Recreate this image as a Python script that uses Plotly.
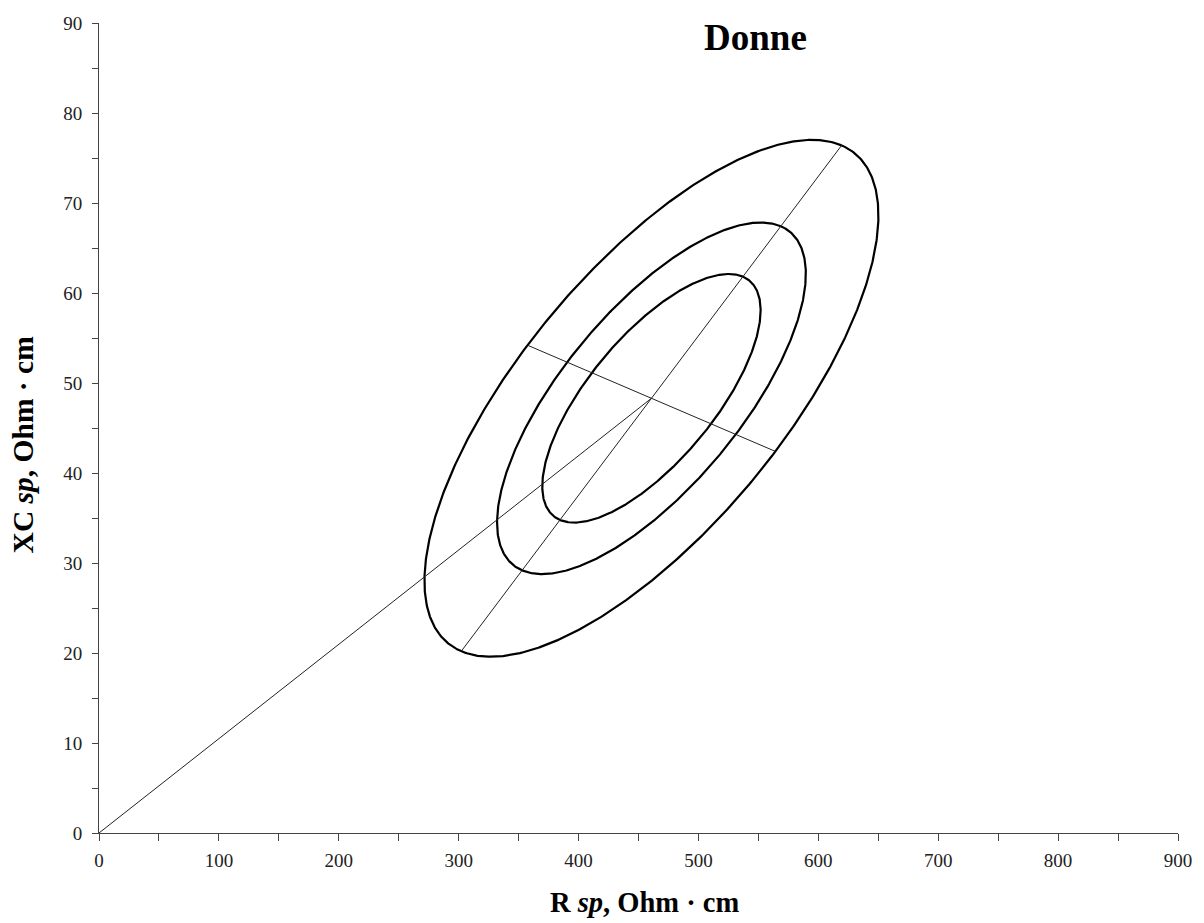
import numpy as np
import plotly.graph_objects as go

# ---- data ----
center_R = 460.8          # mean R sp (Ohm·cm)
center_XC = 48.3          # mean XC sp (Ohm·cm)
major_vec = [158.6, 28.1]   # semi-major conjugate diameter of 95% ellipse (R, XC)
minor_vec = [-103.4, 5.9]   # semi-minor conjugate diameter of 95% ellipse (R, XC)
tolerance_levels = [0.50, 0.75, 0.95]
x_ticks = [0, 100, 200, 300, 400, 500, 600, 700, 800, 900]
y_ticks = [0, 10, 20, 30, 40, 50, 60, 70, 80, 90]
title_text = "Donne"
x_title = "R <i>sp</i>, Ohm · cm"
y_title = "XC <i>sp</i>, Ohm · cm"

FONT = "Liberation Serif, Times New Roman, serif"

fig = go.Figure()

# tolerance ellipses (scaled by chi-square radius relative to 95%)
r95 = np.sqrt(-2 * np.log(1 - 0.95))
t = np.linspace(0, 2 * np.pi, 721)
for p in tolerance_levels:
    s = np.sqrt(-2 * np.log(1 - p)) / r95
    ex = center_R + s * (major_vec[0] * np.cos(t) + minor_vec[0] * np.sin(t))
    ey = center_XC + s * (major_vec[1] * np.cos(t) + minor_vec[1] * np.sin(t))
    fig.add_trace(go.Scatter(x=ex, y=ey, mode="lines",
                             line=dict(color="black", width=2.2),
                             hoverinfo="skip", showlegend=False))

thin = dict(color="#222222", width=1)
# major axis
fig.add_trace(go.Scatter(x=[center_R - major_vec[0], center_R + major_vec[0]],
                         y=[center_XC - major_vec[1], center_XC + major_vec[1]],
                         mode="lines", line=thin, showlegend=False))
# minor axis
fig.add_trace(go.Scatter(x=[center_R + minor_vec[0], center_R - minor_vec[0]],
                         y=[center_XC + minor_vec[1], center_XC - minor_vec[1]],
                         mode="lines", line=thin, showlegend=False))
# vector from origin to mean
fig.add_trace(go.Scatter(x=[0, center_R], y=[0, center_XC],
                         mode="lines", line=thin, showlegend=False))

axis_common = dict(showgrid=False, zeroline=False, showline=True,
                   linecolor="#444444", linewidth=1, ticks="outside",
                   tickcolor="#444444", tickwidth=1,
                   tickfont=dict(family=FONT, size=19, color="#222222"),
                   mirror=False)

fig.update_xaxes(range=[0, 900], tickvals=x_ticks, ticklen=7,
                 minor=dict(dtick=50, ticks="outside", ticklen=7,
                            tickcolor="#444444", tickwidth=1),
                 ticklabelstandoff=3,
                 **axis_common)
fig.update_yaxes(range=[0, 90], tickvals=y_ticks, ticklen=6,
                 minor=dict(dtick=5, ticks="outside", ticklen=6,
                            tickcolor="#444444", tickwidth=1),
                 ticklabelstandoff=6,
                 **axis_common)

PLOT_H = 833 - 22.7
PLOT_W = 1083
fig.add_annotation(text="<b>" + title_text + "</b>", xref="paper", yref="paper",
                   x=(758 - 99) / PLOT_W, y=(833 - 37) / PLOT_H,
                   xanchor="center", yanchor="middle", showarrow=False,
                   font=dict(family=FONT, size=37, color="black"))
fig.add_annotation(text="<b>" + x_title + "</b>", xref="paper", yref="paper",
                   x=(646.7 - 99) / PLOT_W, y=-(903 - 833) / PLOT_H,
                   xanchor="center", yanchor="middle", showarrow=False,
                   font=dict(family=FONT, size=28.5, color="black"))
fig.add_annotation(text="<b>" + y_title + "</b>", xref="paper", yref="paper",
                   x=-(99 - 23) / PLOT_W, y=(833 - 444) / PLOT_H,
                   xanchor="center", yanchor="middle", showarrow=False,
                   textangle=-90,
                   font=dict(family=FONT, size=29.5, color="black"))

fig.update_layout(width=1204, height=923,
                  margin=dict(l=99, r=22, t=23, b=90),
                  plot_bgcolor="white", paper_bgcolor="white",
                  showlegend=False)

fig.write_html("out.html")
